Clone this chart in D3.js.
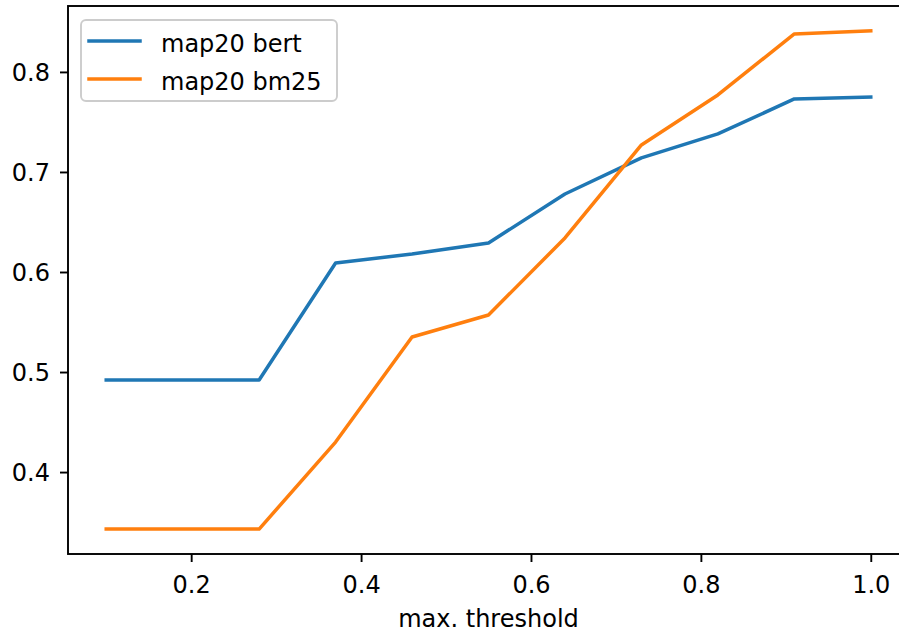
<!DOCTYPE html>
<html>
<head>
<meta charset="utf-8">
<script src="https://cdn.jsdelivr.net/npm/d3@7"></script>
<style>
  html, body { margin: 0; padding: 0; background: #fff; }
  svg { display: block; font-family: "DejaVu Sans", sans-serif; }
</style>
</head>
<body>
<svg id="chart" width="899" height="634"></svg>
<script>
const thresholds = [0.1, 0.19, 0.28, 0.37, 0.46, 0.55, 0.64, 0.73, 0.82, 0.91, 1.0];
const bertValues = [0.492, 0.492, 0.492, 0.609, 0.618, 0.629, 0.678, 0.714, 0.738, 0.773, 0.775];
const bm25Values = [0.343, 0.343, 0.343, 0.430, 0.535, 0.557, 0.634, 0.727, 0.777, 0.838, 0.841];
const seriesNames = ["map20 bert", "map20 bm25"];
const seriesColors = ["#1f77b4", "#ff7f0e"];
const xTicks = [0.2, 0.4, 0.6, 0.8, 1.0];
const yTicks = [0.4, 0.5, 0.6, 0.7, 0.8];
const xLabel = "max. threshold";

(function () {
const svg = d3.select("#chart");
const pLeft = 68, pRight = 909, pTop = 6, pBottom = 554;
const fontSize = 24;

function padded(ext) {
  const d = (ext[1] - ext[0]) * 0.05;
  return [ext[0] - d, ext[1] + d];
}
const xScale = d3.scaleLinear().domain(padded(d3.extent(thresholds))).range([pLeft, pRight]);
const allY = bertValues.concat(bm25Values);
const yScale = d3.scaleLinear().domain(padded(d3.extent(allY))).range([pBottom, pTop]);

const series = [bertValues, bm25Values];
const line = d3.line().x((d, i) => xScale(thresholds[i])).y(d => yScale(d));

series.forEach((vals, k) => {
  svg.append("path")
    .datum(vals)
    .attr("d", line)
    .attr("fill", "none")
    .attr("stroke", seriesColors[k])
    .attr("stroke-width", 3.5)
    .attr("stroke-linecap", "square")
    .attr("stroke-linejoin", "round");
});

// axes
const xAxis = d3.axisBottom(xScale).tickValues(xTicks).tickFormat(d3.format(".1f")).tickSize(8).tickPadding(10);
const gx = svg.append("g").attr("transform", `translate(0,${pBottom})`).call(xAxis);
const yAxis = d3.axisLeft(yScale).tickValues(yTicks).tickFormat(d3.format(".1f")).tickSize(8).tickPadding(10);
const gy = svg.append("g").attr("transform", `translate(${pLeft},0)`).call(yAxis);

[gx, gy].forEach(g => {
  g.select(".domain").remove();
  g.selectAll(".tick line").attr("stroke", "#000").attr("stroke-width", 1.9);
  g.selectAll(".tick text").attr("fill", "#000").style("font-size", fontSize + "px").style("font-family", "DejaVu Sans");
});
gx.selectAll(".tick text").attr("dy", null).attr("y", 39);
gy.selectAll(".tick text").attr("dy", "0.36em").attr("x", -18);

// spines
svg.append("rect")
  .attr("x", pLeft).attr("y", pTop)
  .attr("width", pRight - pLeft).attr("height", pBottom - pTop)
  .attr("fill", "none").attr("stroke", "#000").attr("stroke-width", 1.9);

// x label
svg.append("text")
  .attr("x", (pLeft + pRight) / 2)
  .attr("y", 627)
  .attr("text-anchor", "middle")
  .style("font-size", fontSize + "px")
  .attr("fill", "#000")
  .text(xLabel);

// legend
const lg = svg.append("g");
lg.append("rect")
  .attr("x", 81).attr("y", 20).attr("width", 256).attr("height", 81)
  .attr("rx", 5).attr("ry", 5)
  .attr("fill", "#fff").attr("fill-opacity", 0.8)
  .attr("stroke", "#cccccc").attr("stroke-width", 1.9);
seriesNames.forEach((name, k) => {
  const y = 41 + k * 38;
  lg.append("line")
    .attr("x1", 89).attr("x2", 140)
    .attr("y1", y).attr("y2", y)
    .attr("stroke", seriesColors[k]).attr("stroke-width", 3.5)
    .attr("stroke-linecap", "square");
  lg.append("text")
    .attr("x", 161).attr("y", y + 11)
    .style("font-size", fontSize + "px")
    .attr("fill", "#000")
    .text(name);
});
})();
</script>
</body>
</html>
